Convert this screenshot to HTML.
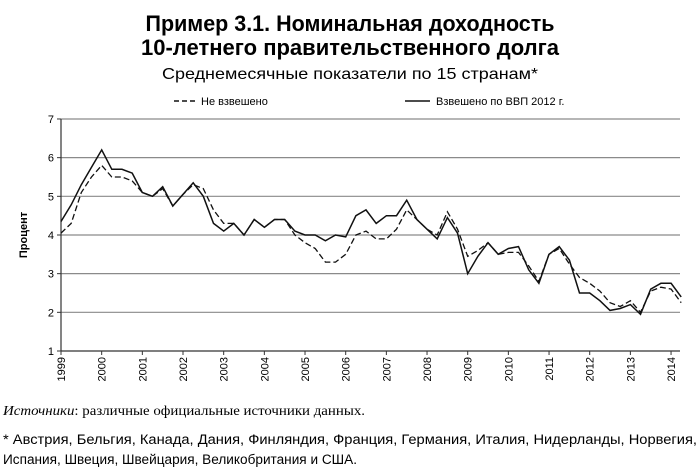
<!DOCTYPE html>
<html><head><meta charset="utf-8"><style>
html,body{margin:0;padding:0;background:#fff;}
svg{display:block;font-family:"Liberation Sans",sans-serif;}
</style></head><body>
<svg id="chart" width="700" height="468" viewBox="0 0 700 468" xmlns="http://www.w3.org/2000/svg">
<text x="350" y="31" text-anchor="middle" font-size="22" font-weight="bold" textLength="409" lengthAdjust="spacingAndGlyphs">Пример 3.1. Номинальная доходность</text>
<text x="350" y="55" text-anchor="middle" font-size="22" font-weight="bold" textLength="418" lengthAdjust="spacingAndGlyphs">10-летнего правительственного долга</text>
<text x="350" y="79" text-anchor="middle" font-size="16" textLength="376" lengthAdjust="spacingAndGlyphs">Среднемесячные показатели по 15 странам*</text>
<g>
<line x1="174" y1="101" x2="196" y2="101" stroke="#111" stroke-width="1.5" stroke-dasharray="5,3"/>
<text x="201" y="105" font-size="11">Не взвешено</text>
<line x1="405" y1="101" x2="430" y2="101" stroke="#111" stroke-width="1.5"/>
<text x="436" y="105" font-size="11">Взвешено по ВВП 2012 г.</text>
</g>
<text transform="translate(27,235) rotate(-90)" text-anchor="middle" font-size="11" font-weight="bold">Процент</text>
<g id="grid"></g>
<g id="axes"></g>
<g id="series"></g>
<text x="3" y="415" font-family="Liberation Serif, serif" font-size="13.5" textLength="362" lengthAdjust="spacingAndGlyphs"><tspan font-style="italic">Источники</tspan>: различные официальные источники данных.</text>
<text x="3" y="444" font-size="13.5" textLength="694" lengthAdjust="spacingAndGlyphs">* Австрия, Бельгия, Канада, Дания, Финляндия, Франция, Германия, Италия, Нидерланды, Норвегия,</text>
<text x="3" y="464" font-size="13.5" textLength="354" lengthAdjust="spacingAndGlyphs">Испания, Швеция, Швейцария, Великобритания и США.</text>
</svg>
<script>
const years = [1999,2000,2001,2002,2003,2004,2005,2006,2007,2008,2009,2010,2011,2012,2013,2014];
const yTicks = [1,2,3,4,5,6,7];
const startYear = 1999;
const stepYears = 0.25;
const weighted = [4.35,4.78,5.3,5.75,6.2,5.7,5.7,5.6,5.1,5.0,5.25,4.75,5.05,5.35,5.0,4.3,4.1,4.3,4.0,4.4,4.2,4.4,4.4,4.1,4.0,4.0,3.85,4.0,3.95,4.5,4.65,4.3,4.5,4.5,4.9,4.4,4.15,3.9,4.45,4.05,3.0,3.45,3.8,3.5,3.65,3.7,3.1,2.75,3.5,3.7,3.35,2.5,2.5,2.3,2.05,2.1,2.2,1.95,2.6,2.75,2.75,2.4];
const unweighted = [4.05,4.3,5.1,5.5,5.8,5.5,5.5,5.4,5.1,5.0,5.2,4.75,5.05,5.3,5.2,4.65,4.3,4.3,4.0,4.4,4.2,4.4,4.4,4.0,3.8,3.65,3.3,3.3,3.5,4.0,4.1,3.9,3.9,4.15,4.65,4.4,4.15,4.0,4.6,4.15,3.45,3.6,3.8,3.5,3.55,3.55,3.2,2.8,3.5,3.65,3.25,2.9,2.75,2.55,2.25,2.15,2.3,2.0,2.55,2.65,2.6,2.25];
const NS='http://www.w3.org/2000/svg';
const x0=61, pxPerYear=40.67, yBase=351, pxPerUnit=38.67;
function xs(t){return x0+(t-startYear)*pxPerYear;}
function ys(v){return yBase-(v-1)*pxPerUnit;}
function mk(tag,attrs,parent){const e=document.createElementNS(NS,tag);for(const k in attrs)e.setAttribute(k,attrs[k]);parent.appendChild(e);return e;}
const grid=document.getElementById('grid'), axes=document.getElementById('axes'), series=document.getElementById('series');
yTicks.forEach(v=>{
  if(v>1){const g=mk('line',{x1:x0,x2:680,y1:ys(v),y2:ys(v),stroke:'#8a8a8a','stroke-width':1.2},grid);
  
  }
  const tk=mk('line',{x1:x0-4,x2:x0,y1:ys(v),y2:ys(v),stroke:'#333'},axes);
  
  
  const t=mk('text',{x:x0-7,y:ys(v)+4,'text-anchor':'end','font-size':11},axes);
  t.textContent=v;
  
  
});
const ya=mk('line',{x1:x0,x2:x0,y1:ys(7),y2:ys(1),stroke:'#333','stroke-width':1.2},axes);


const xa=mk('line',{x1:x0,x2:680,y1:ys(1),y2:ys(1),stroke:'#333','stroke-width':1.2},axes);


years.forEach(yr=>{
  const x=xs(yr);
  const tk=mk('line',{x1:x,x2:x,y1:ys(1),y2:ys(1)+4,stroke:'#333'},axes);
  
  
  const t=mk('text',{transform:'translate('+(x+4)+',357) rotate(-90)','text-anchor':'end','font-size':11},axes);
  t.textContent=yr;
  
  
});
function pts(arr){return arr.map((v,i)=>xs(startYear+i*stepYears).toFixed(1)+','+ys(v).toFixed(1)).join(' ');}
const pu=mk('polyline',{points:pts(unweighted),fill:'none',stroke:'#111','stroke-width':1.3,'stroke-dasharray':'6,3'},series);


const pw=mk('polyline',{points:pts(weighted),fill:'none',stroke:'#111','stroke-width':1.5},series);


</script>
</body></html>
